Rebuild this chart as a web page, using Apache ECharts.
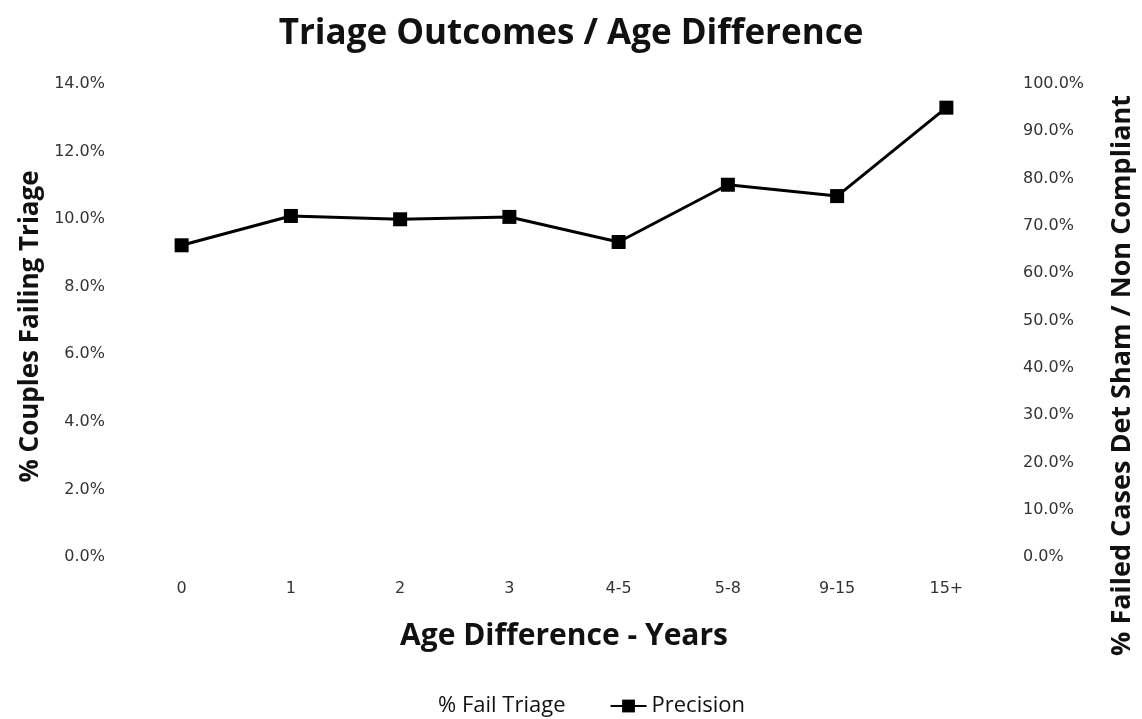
<!DOCTYPE html>
<html>
<head>
<meta charset="utf-8">
<script src="https://cdn.jsdelivr.net/npm/echarts@6/dist/echarts.min.js"></script>
<style>html,body{margin:0;padding:0;background:#fff;}#c{width:1142px;height:719px;}</style>
</head>
<body>
<div id="c"></div>
<script>
var categories = ['0', '1', '2', '3', '4-5', '5-8', '9-15', '15+'];
var failTriage = [null, null, null, null, null, null, null, null];
var precision = [65.9, 72.1, 71.4, 71.9, 66.6, 78.7, 76.3, 95.0];

var chart = echarts.init(document.getElementById('c'));
var tickFont = {color: '#333', fontFamily: 'DejaVu Sans', fontSize: 16};
chart.setOption({
  animation: false,
  backgroundColor: '#fff',
  title: {
    text: 'Triage Outcomes / Age Difference',
    left: 'center', top: 12,
    textStyle: {fontFamily: 'Open Sans', fontWeight: 'bold', fontSize: 35, color: '#111'}
  },
  legend: {
    top: 690, left: 'center', itemGap: 44,
    textStyle: {fontFamily: 'Open Sans', fontSize: 22, color: '#111'},
    data: [
      {name: '% Fail Triage', icon: 'none'},
      {name: 'Precision'}
    ],
    itemWidth: 36, itemHeight: 16
  },
  grid: {left: 127, right: 141, top: 84, bottom: 162, outerBoundsMode: 'none', containLabel: false},
  xAxis: {
    type: 'category', data: categories,
    axisLine: {show: false}, axisTick: {show: false},
    axisLabel: Object.assign({margin: 24}, tickFont),
    name: 'Age Difference - Years', nameLocation: 'middle', nameGap: 64,
    nameTextStyle: {fontFamily: 'Open Sans', fontWeight: 'bold', fontSize: 30, color: '#111'}
  },
  yAxis: [{
    type: 'value', min: 0, max: 14, interval: 2,
    axisLine: {show: false}, axisTick: {show: false}, splitLine: {show: false},
    axisLabel: Object.assign({margin: 22, formatter: function (v) { return v.toFixed(1) + '%'; }}, tickFont),
    name: '% Couples Failing Triage', nameLocation: 'middle', nameGap: 82, nameRotate: 90,
    nameTextStyle: {fontFamily: 'Open Sans', fontWeight: 'bold', fontSize: 26, color: '#111', padding: [0, 12, 0, 0]}
  }, {
    type: 'value', min: 0, max: 100, interval: 10, position: 'right',
    axisLine: {show: false}, axisTick: {show: false}, splitLine: {show: false},
    axisLabel: Object.assign({margin: 22, formatter: function (v) { return v.toFixed(1) + '%'; }}, tickFont),
    name: '% Failed Cases Det Sham / Non Compliant', nameLocation: 'middle', nameGap: 108, nameRotate: 90,
    nameTextStyle: {fontFamily: 'Open Sans', fontWeight: 'bold', fontSize: 27, color: '#111', padding: [0, 110, 0, 0]}
  }],
  series: [{
    name: '% Fail Triage', type: 'bar', yAxisIndex: 0, data: failTriage,
    itemStyle: {color: '#fff'}
  }, {
    name: 'Precision', type: 'line', yAxisIndex: 1, data: precision,
    symbol: 'rect', symbolSize: 14,
    lineStyle: {color: '#000', width: 3},
    itemStyle: {color: '#000'}
  }]
});
</script>
</body>
</html>
